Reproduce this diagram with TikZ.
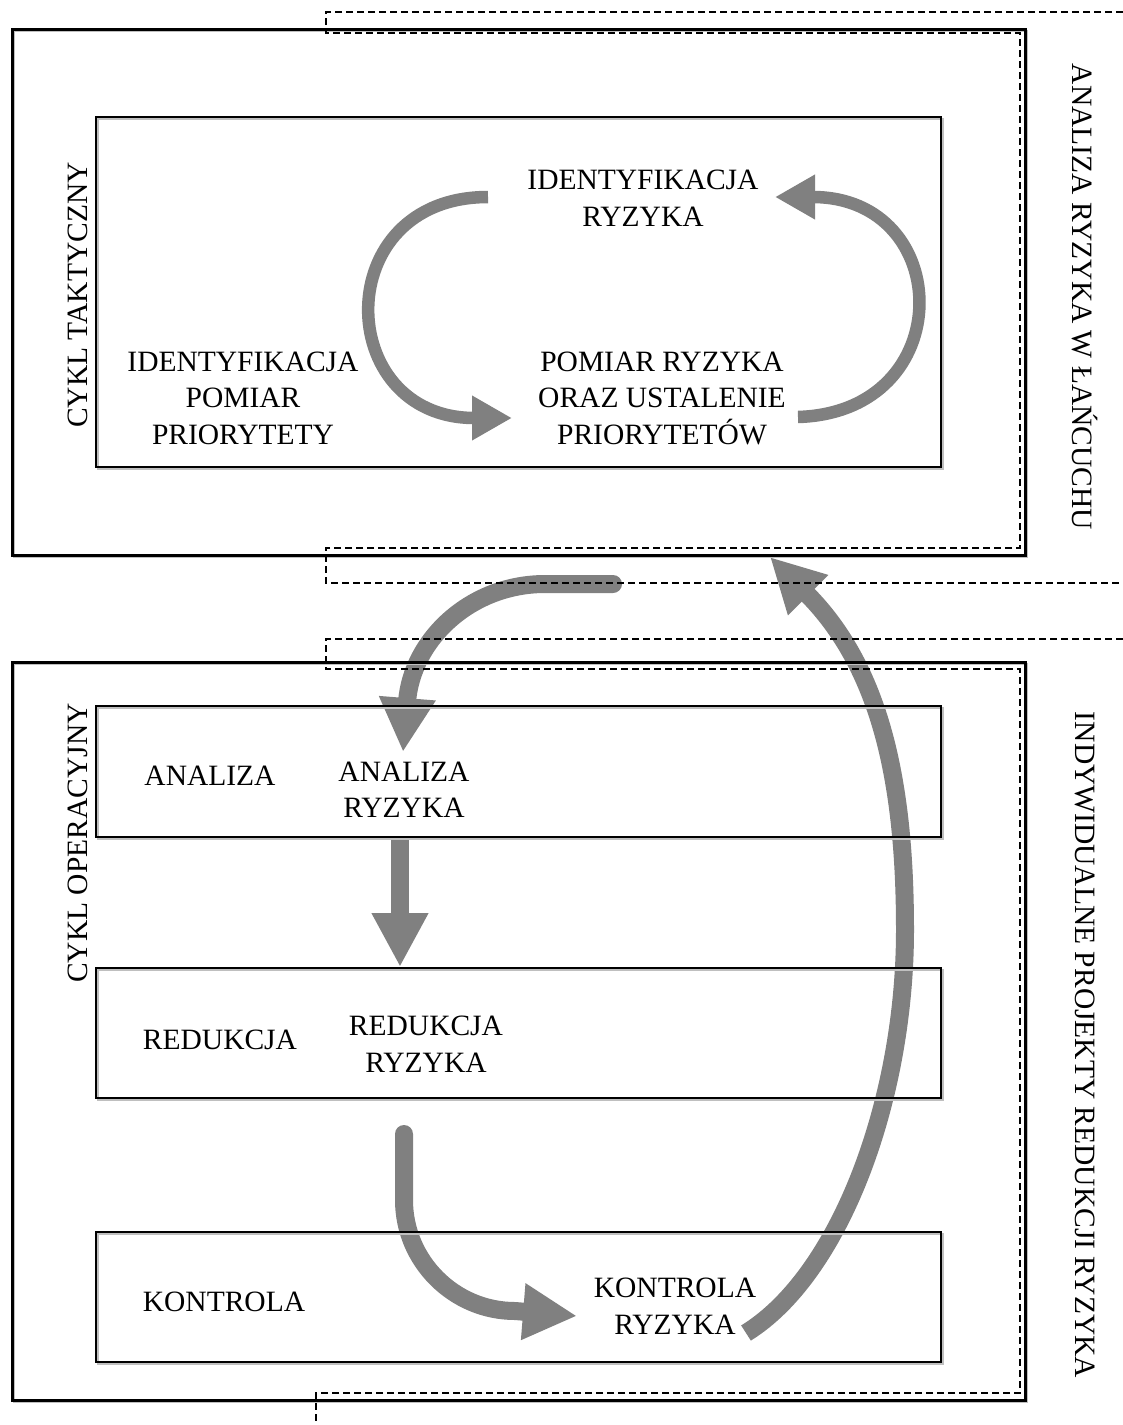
\documentclass[tikz,border=0pt]{standalone}
\usepackage{fontspec}
\setmainfont{Liberation Serif}
\usetikzlibrary{arrows.meta}
\definecolor{flow}{HTML}{808080}
\begin{document}
\begin{tikzpicture}[x=1pt,y=-1pt,
  every node/.style={font=\fontsize{29.5}{36.5}\selectfont, align=center, inner sep=0pt},
  outerbox/.style={line width=3pt},
  innerbox/.style={line width=2.5pt},
  boxshade/.style={line width=2pt, draw=black!25},
  bracket/.style={line width=1.2pt, dash pattern=on 7pt off 4pt},
  bigflow/.style={draw=flow, line width=18pt, -{Triangle[length=54pt,width=53pt]}},
  smallflow/.style={draw=flow, line width=12.5pt, -{Triangle[length=40pt,width=42pt]}},
]
\fill[white] (0,0) rectangle (1123,1425);
\useasboundingbox (0,0) rectangle (1123,1425);

% end points of the flow arrows
\coordinate (l1s) at (488,197);  \coordinate (l1e) at (512,418);
\coordinate (l2s) at (798,417);  \coordinate (l2e) at (775,197);
\coordinate (dns) at (613,584);  \coordinate (dnk) at (545,584);  \coordinate (dne) at (403,752);
\coordinate (ups) at (746,1333); \coordinate (upm) at (905,930);  \coordinate (upe) at (770,557);
\coordinate (ars) at (400,837);  \coordinate (are) at (400,967);
\coordinate (rks) at (404,1134); \coordinate (rkk) at (404,1200); \coordinate (rkm) at (515,1311); \coordinate (rke) at (577,1316);

% flow arrows (under the frames)
\draw[smallflow] (l1s) .. controls (328,197) and (333,418) .. (l1e);
\draw[smallflow] (l2s) .. controls (960,412) and (955,197) .. (l2e);
\draw[bigflow, line cap=round] (dns) -- (dnk) .. controls (470,584) and (412,640) .. (dne);
\draw[bigflow] (ups) .. controls (840,1275) and (905,1100) .. (upm) .. controls (905,780) and (880,667) .. (upe);
\draw[bigflow] (ars) -- (are);
\draw[bigflow, line cap=round] (rks) -- (rkk) .. controls (404,1261) and (454,1311) .. (rkm) -- (rke);

% frame shadows
\begin{scope}[shift={(1.5,1.5)}]
  \draw[boxshade] (12,29) rectangle (1025,555);
  \draw[boxshade] (96,117) rectangle (941,467);
  \draw[boxshade] (12,662) rectangle (1025,1400);
  \draw[boxshade] (96,706) rectangle (941,837);
  \draw[boxshade] (96,968) rectangle (941,1098);
  \draw[boxshade] (96,1232) rectangle (941,1362);
\end{scope}

% frames
\draw[outerbox] (12,29) rectangle (1025,555);
\draw[innerbox] (96,117) rectangle (941,467);
\draw[outerbox] (12,662) rectangle (1025,1400);
\draw[innerbox] (96,706) rectangle (941,837);
\draw[innerbox] (96,968) rectangle (941,1098);
\draw[innerbox] (96,1232) rectangle (941,1362);

% dashed brackets of the two levels
\draw[bracket] (1123,12) -- (326,12) -- (326,33) -- (1020,33) -- (1020,548) -- (326,548) -- (326,583) -- (1123,583);
\draw[bracket] (1123,639) -- (326,639) -- (326,669) -- (1020,669) -- (1020,1393) -- (316,1393) -- (316,1425);

% labels
\node (idr) at (643,198) {IDENTYFIKACJA\\RYZYKA};
\node (ipp) at (243,398) {IDENTYFIKACJA\\POMIAR\\PRIORYTETY};
\node (pru) at (662,398) {POMIAR RYZYKA\\ORAZ USTALENIE\\PRIORYTETÓW};
\node[rotate=90] (ctk) at (78,295) {CYKL TAKTYCZNY};
\node[rotate=-90] (arl) at (1085,297) {ANALIZA RYZYKA W ŁAŃCUCHU};
\node[rotate=90] (cop) at (78,843) {CYKL OPERACYJNY};
\node[rotate=-90] (ipr) at (1085,1045) {INDYWIDUALNE PROJEKTY REDUKCJI RYZYKA};
\node (an1) at (210,776) {ANALIZA};
\node (an2) at (404,790) {ANALIZA\\RYZYKA};
\node (re1) at (220,1040) {REDUKCJA};
\node (re2) at (426,1044) {REDUKCJA\\RYZYKA};
\node (ko1) at (224,1302) {KONTROLA};
\node (ko2) at (675,1306) {KONTROLA\\RYZYKA};
\end{tikzpicture}
\end{document}
